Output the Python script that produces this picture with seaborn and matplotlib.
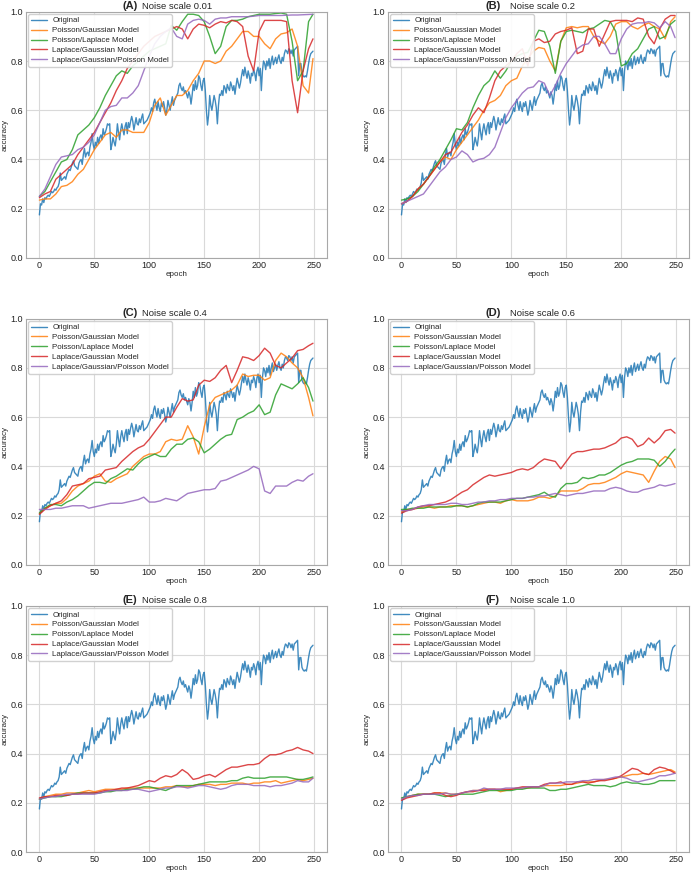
import numpy as np
import pandas as pd
import matplotlib
matplotlib.use("Agg")
import matplotlib.pyplot as plt
import seaborn as sns

# Original training accuracy, one value per epoch (same curve in every panel)
orig_acc = [
    0.175, 0.22, 0.215, 0.24, 0.225, 0.245, 0.24, 0.25, 0.255, 0.25,
    0.26, 0.27, 0.265, 0.27, 0.28, 0.275, 0.285, 0.29, 0.305, 0.345,
    0.315, 0.32, 0.325, 0.33, 0.32, 0.34, 0.35, 0.36, 0.355, 0.37,
    0.385, 0.395, 0.375, 0.37, 0.365, 0.36, 0.385, 0.395, 0.40, 0.38,
    0.42, 0.445, 0.41, 0.425, 0.43, 0.415, 0.45, 0.47, 0.505, 0.46,
    0.44, 0.47, 0.455, 0.49, 0.465, 0.49, 0.50, 0.48, 0.525, 0.50,
    0.51, 0.525, 0.545, 0.54, 0.545, 0.44, 0.46, 0.49, 0.47, 0.455,
    0.49, 0.545, 0.51, 0.48, 0.52, 0.545, 0.52, 0.50, 0.535, 0.55,
    0.505, 0.55, 0.53, 0.555, 0.575, 0.555, 0.52, 0.545, 0.57, 0.545,
    0.54, 0.565, 0.55, 0.57, 0.585, 0.545, 0.55, 0.555, 0.56, 0.57,
    0.58, 0.59, 0.61, 0.595, 0.63, 0.645, 0.62, 0.60, 0.635, 0.61,
    0.595, 0.63, 0.615, 0.635, 0.61, 0.58, 0.60, 0.64, 0.62, 0.60,
    0.63, 0.655, 0.62, 0.64, 0.65, 0.66, 0.67, 0.70, 0.71, 0.69,
    0.68, 0.695, 0.67, 0.68, 0.665, 0.65, 0.675, 0.66, 0.625, 0.66,
    0.705, 0.68, 0.72, 0.685, 0.70, 0.74, 0.73, 0.70, 0.68, 0.72,
    0.73, 0.68, 0.60, 0.54, 0.58, 0.66, 0.62, 0.60, 0.63, 0.66,
    0.64, 0.61, 0.545, 0.62, 0.665, 0.66, 0.68, 0.66, 0.70, 0.69,
    0.67, 0.705, 0.69, 0.68, 0.715, 0.70, 0.68, 0.70, 0.665, 0.70,
    0.73, 0.71, 0.69, 0.71, 0.74, 0.765, 0.74, 0.775, 0.75, 0.73,
    0.76, 0.74, 0.71, 0.75, 0.74, 0.765, 0.75, 0.72, 0.76, 0.775,
    0.74, 0.77, 0.68, 0.76, 0.80, 0.79, 0.765, 0.80, 0.78, 0.81,
    0.77, 0.80, 0.82, 0.785, 0.80, 0.815, 0.79, 0.81, 0.825, 0.80,
    0.79, 0.815, 0.80, 0.83, 0.845, 0.84, 0.83, 0.85, 0.845, 0.83,
    0.845, 0.82, 0.845, 0.85, 0.855, 0.86, 0.74, 0.79, 0.79, 0.75,
    0.74, 0.735, 0.74, 0.735, 0.76, 0.79, 0.815, 0.83, 0.835, 0.84,
]
orig_epochs = list(range(len(orig_acc)))

# model curves, read every 5 epochs (last point at epoch 249)
model_epochs = list(range(0, 250, 5)) + [249]

# (A) noise scale 0.01
a_pg = [0.235, 0.24, 0.24, 0.26, 0.29, 0.295, 0.31, 0.34, 0.36, 0.40,
        0.44, 0.47, 0.50, 0.51, 0.49, 0.52, 0.52, 0.51, 0.51, 0.51,
        0.55, 0.62, 0.65, 0.58, 0.62, 0.66, 0.66, 0.68, 0.72, 0.75,
        0.80, 0.80, 0.79, 0.80, 0.84, 0.86, 0.89, 0.92, 0.92, 0.90,
        0.90, 0.87, 0.85, 0.89, 0.91, 0.915, 0.93, 0.86, 0.70, 0.67, 0.81]
a_pl = [0.25, 0.27, 0.31, 0.35, 0.39, 0.40, 0.44, 0.50, 0.52, 0.54,
        0.57, 0.61, 0.66, 0.70, 0.74, 0.76, 0.75, 0.78, 0.80, 0.82,
        0.84, 0.85, 0.86, 0.87, 0.945, 0.925, 0.96, 0.99, 0.99, 0.985,
        0.96, 0.90, 0.83, 0.86, 0.94, 0.965, 0.965, 0.97, 0.98, 0.985,
        0.99, 0.99, 0.99, 0.993, 0.995, 0.99, 0.88, 0.72, 0.76, 0.96, 0.99]
a_lg = [0.245, 0.26, 0.27, 0.32, 0.34, 0.36, 0.38, 0.42, 0.45, 0.48,
        0.51, 0.55, 0.59, 0.63, 0.68, 0.72, 0.77, 0.80, 0.83, 0.86,
        0.88, 0.90, 0.91, 0.92, 0.93, 0.94, 0.93, 0.89, 0.93, 0.95,
        0.945, 0.935, 0.95, 0.96, 0.955, 0.965, 0.96, 0.94, 0.82, 0.76,
        0.92, 0.965, 0.965, 0.965, 0.965, 0.96, 0.72, 0.59, 0.76, 0.85, 0.89]
a_lgp = [0.25, 0.28, 0.33, 0.38, 0.41, 0.415, 0.42, 0.44, 0.45, 0.47,
         0.50, 0.55, 0.60, 0.615, 0.62, 0.65, 0.65, 0.67, 0.70, 0.76,
         0.82, 0.87, 0.90, 0.92, 0.935, 0.90, 0.89, 0.95, 0.965, 0.97,
         0.965, 0.95, 0.97, 0.975, 0.975, 0.98, 0.98, 0.98, 0.98, 0.982,
         0.985, 0.985, 0.985, 0.985, 0.985, 0.986, 0.987, 0.987, 0.988, 0.989, 0.99]

# (B) noise scale 0.2
b_pg = [0.22, 0.23, 0.25, 0.28, 0.30, 0.33, 0.36, 0.39, 0.41, 0.40,
        0.44, 0.47, 0.50, 0.53, 0.56, 0.60, 0.63, 0.64, 0.66, 0.70,
        0.72, 0.73, 0.78, 0.81, 0.84, 0.855, 0.85, 0.80, 0.76, 0.88,
        0.935, 0.94, 0.935, 0.94, 0.94, 0.90, 0.88, 0.87, 0.90, 0.95,
        0.96, 0.96, 0.94, 0.93, 0.945, 0.955, 0.94, 0.93, 0.89, 0.96, 0.98]
b_pl = [0.235, 0.24, 0.25, 0.27, 0.30, 0.33, 0.37, 0.40, 0.44, 0.48,
        0.525, 0.52, 0.55, 0.61, 0.66, 0.70, 0.72, 0.76, 0.73, 0.76,
        0.80, 0.82, 0.83, 0.835, 0.88, 0.925, 0.92, 0.86, 0.75, 0.88,
        0.92, 0.925, 0.92, 0.915, 0.93, 0.935, 0.95, 0.965, 0.96, 0.92,
        0.78, 0.79, 0.83, 0.85, 0.89, 0.93, 0.94, 0.89, 0.90, 0.95, 0.965]
b_lg = [0.22, 0.23, 0.25, 0.28, 0.30, 0.33, 0.36, 0.39, 0.42, 0.43,
        0.47, 0.51, 0.54, 0.58, 0.61, 0.59, 0.65, 0.72, 0.76, 0.78,
        0.80, 0.83, 0.85, 0.78, 0.88, 0.89, 0.875, 0.88, 0.91, 0.92,
        0.925, 0.935, 0.83, 0.84, 0.93, 0.93, 0.86, 0.91, 0.96, 0.965,
        0.965, 0.965, 0.96, 0.975, 0.97, 0.90, 0.87, 0.93, 0.97, 0.985, 0.985]
b_lgp = [0.22, 0.23, 0.24, 0.25, 0.26, 0.29, 0.32, 0.35, 0.37, 0.40,
         0.41, 0.435, 0.42, 0.39, 0.40, 0.405, 0.42, 0.45, 0.51, 0.57,
         0.61, 0.64, 0.67, 0.69, 0.695, 0.72, 0.71, 0.66, 0.70, 0.75,
         0.79, 0.82, 0.85, 0.865, 0.87, 0.90, 0.90, 0.87, 0.83, 0.83,
         0.89, 0.93, 0.95, 0.955, 0.955, 0.96, 0.955, 0.935, 0.96, 0.94, 0.895]

# (C) noise scale 0.4
c_pg = [0.21, 0.23, 0.24, 0.25, 0.25, 0.27, 0.30, 0.32, 0.33, 0.34,
        0.36, 0.37, 0.34, 0.335, 0.35, 0.36, 0.37, 0.40, 0.42, 0.44,
        0.45, 0.45, 0.46, 0.50, 0.51, 0.505, 0.51, 0.565, 0.52, 0.45,
        0.56, 0.65, 0.68, 0.69, 0.70, 0.71, 0.73, 0.775, 0.765, 0.77,
        0.77, 0.75, 0.76, 0.83, 0.86, 0.845, 0.82, 0.80, 0.76, 0.68, 0.605]
c_pl = [0.21, 0.23, 0.245, 0.245, 0.24, 0.255, 0.265, 0.28, 0.30, 0.32,
        0.335, 0.335, 0.33, 0.35, 0.36, 0.375, 0.39, 0.385, 0.41, 0.43,
        0.44, 0.45, 0.44, 0.44, 0.47, 0.49, 0.49, 0.51, 0.515, 0.50,
        0.455, 0.47, 0.49, 0.51, 0.525, 0.53, 0.59, 0.60, 0.615, 0.625,
        0.65, 0.61, 0.62, 0.69, 0.735, 0.725, 0.715, 0.735, 0.76, 0.72, 0.665]
c_lg = [0.205, 0.225, 0.24, 0.25, 0.26, 0.285, 0.32, 0.325, 0.33, 0.35,
        0.355, 0.36, 0.385, 0.39, 0.395, 0.42, 0.44, 0.46, 0.475, 0.485,
        0.51, 0.54, 0.57, 0.60, 0.60, 0.64, 0.675, 0.665, 0.67, 0.73,
        0.75, 0.745, 0.76, 0.79, 0.81, 0.74, 0.79, 0.845, 0.84, 0.83,
        0.85, 0.88, 0.86, 0.81, 0.80, 0.82, 0.84, 0.87, 0.875, 0.89, 0.90]
c_lgp = [0.225, 0.225, 0.225, 0.23, 0.23, 0.235, 0.24, 0.24, 0.24, 0.23,
         0.235, 0.24, 0.245, 0.25, 0.25, 0.25, 0.255, 0.26, 0.265, 0.275,
         0.255, 0.255, 0.26, 0.27, 0.265, 0.26, 0.275, 0.29, 0.295, 0.30,
         0.305, 0.305, 0.31, 0.34, 0.345, 0.355, 0.365, 0.375, 0.385, 0.40,
         0.39, 0.30, 0.29, 0.32, 0.32, 0.32, 0.335, 0.345, 0.34, 0.36, 0.37]

# (D) noise scale 0.6
d_pg = [0.215, 0.225, 0.225, 0.23, 0.235, 0.235, 0.23, 0.235, 0.235, 0.24,
        0.24, 0.24, 0.235, 0.24, 0.245, 0.25, 0.255, 0.255, 0.25, 0.26,
        0.265, 0.26, 0.26, 0.26, 0.265, 0.275, 0.275, 0.27, 0.28, 0.30,
        0.30, 0.30, 0.30, 0.31, 0.325, 0.33, 0.33, 0.335, 0.345, 0.355,
        0.37, 0.38, 0.375, 0.37, 0.365, 0.335, 0.38, 0.42, 0.44, 0.43, 0.395]
d_pl = [0.225, 0.225, 0.23, 0.23, 0.23, 0.235, 0.235, 0.235, 0.235, 0.235,
        0.24, 0.24, 0.235, 0.24, 0.25, 0.255, 0.255, 0.255, 0.255, 0.26,
        0.265, 0.27, 0.27, 0.275, 0.28, 0.285, 0.295, 0.28, 0.275, 0.31,
        0.33, 0.33, 0.335, 0.355, 0.35, 0.355, 0.365, 0.365, 0.375, 0.39,
        0.405, 0.415, 0.42, 0.43, 0.43, 0.43, 0.425, 0.40, 0.42, 0.45, 0.47]
d_lg = [0.21, 0.22, 0.225, 0.235, 0.24, 0.24, 0.245, 0.25, 0.255, 0.265,
        0.28, 0.295, 0.305, 0.325, 0.34, 0.355, 0.365, 0.36, 0.365, 0.37,
        0.375, 0.385, 0.39, 0.385, 0.395, 0.415, 0.43, 0.425, 0.42, 0.39,
        0.42, 0.45, 0.46, 0.46, 0.465, 0.47, 0.47, 0.475, 0.485, 0.495,
        0.515, 0.52, 0.51, 0.48, 0.49, 0.515, 0.495, 0.515, 0.545, 0.55, 0.535]
d_lgp = [0.22, 0.22, 0.225, 0.235, 0.24, 0.245, 0.245, 0.245, 0.245, 0.25,
         0.25, 0.245, 0.245, 0.25, 0.255, 0.255, 0.26, 0.26, 0.265, 0.265,
         0.27, 0.27, 0.27, 0.275, 0.275, 0.28, 0.28, 0.285, 0.29, 0.285,
         0.28, 0.285, 0.29, 0.29, 0.295, 0.30, 0.30, 0.30, 0.31, 0.315,
         0.31, 0.30, 0.295, 0.295, 0.305, 0.31, 0.315, 0.325, 0.32, 0.325, 0.33]

# (E) noise scale 0.8
e_pg = [0.215, 0.225, 0.23, 0.235, 0.235, 0.24, 0.24, 0.24, 0.245, 0.25,
        0.245, 0.25, 0.255, 0.255, 0.255, 0.255, 0.26, 0.26, 0.26, 0.26,
        0.26, 0.26, 0.26, 0.265, 0.265, 0.27, 0.265, 0.265, 0.27, 0.275,
        0.275, 0.275, 0.27, 0.275, 0.275, 0.28, 0.28, 0.28, 0.275, 0.28,
        0.28, 0.285, 0.285, 0.29, 0.28, 0.285, 0.29, 0.295, 0.29, 0.295, 0.30]
e_pl = [0.215, 0.22, 0.225, 0.225, 0.225, 0.23, 0.235, 0.24, 0.24, 0.24,
        0.24, 0.24, 0.245, 0.245, 0.25, 0.25, 0.255, 0.255, 0.26, 0.265,
        0.265, 0.26, 0.255, 0.25, 0.26, 0.27, 0.27, 0.27, 0.27, 0.275,
        0.28, 0.285, 0.285, 0.285, 0.285, 0.29, 0.29, 0.30, 0.305, 0.30,
        0.30, 0.30, 0.305, 0.305, 0.305, 0.305, 0.30, 0.295, 0.295, 0.30, 0.305]
e_lg = [0.22, 0.225, 0.225, 0.23, 0.23, 0.23, 0.235, 0.235, 0.24, 0.24,
        0.24, 0.245, 0.25, 0.25, 0.255, 0.26, 0.26, 0.265, 0.27, 0.28,
        0.29, 0.285, 0.30, 0.31, 0.305, 0.315, 0.335, 0.32, 0.295, 0.30,
        0.31, 0.315, 0.305, 0.32, 0.335, 0.345, 0.345, 0.35, 0.355, 0.355,
        0.36, 0.38, 0.395, 0.395, 0.40, 0.41, 0.415, 0.425, 0.415, 0.41, 0.40]
e_lgp = [0.215, 0.22, 0.225, 0.225, 0.23, 0.235, 0.235, 0.235, 0.235, 0.235,
         0.235, 0.24, 0.245, 0.25, 0.25, 0.25, 0.25, 0.255, 0.255, 0.25,
         0.245, 0.25, 0.255, 0.26, 0.26, 0.265, 0.265, 0.26, 0.265, 0.27,
         0.27, 0.265, 0.26, 0.255, 0.26, 0.27, 0.275, 0.275, 0.275, 0.27,
         0.27, 0.27, 0.265, 0.27, 0.27, 0.275, 0.28, 0.29, 0.285, 0.285, 0.30]

# (F) noise scale 1.0
f_pg = [0.215, 0.225, 0.23, 0.235, 0.235, 0.235, 0.24, 0.24, 0.24, 0.235,
        0.235, 0.24, 0.245, 0.25, 0.25, 0.255, 0.255, 0.255, 0.245, 0.25,
        0.255, 0.26, 0.26, 0.26, 0.265, 0.265, 0.27, 0.27, 0.27, 0.27,
        0.275, 0.275, 0.28, 0.285, 0.285, 0.285, 0.29, 0.295, 0.295, 0.30,
        0.305, 0.31, 0.315, 0.315, 0.32, 0.315, 0.32, 0.325, 0.33, 0.335, 0.325]
f_pl = [0.22, 0.225, 0.23, 0.235, 0.235, 0.235, 0.235, 0.23, 0.225, 0.23,
        0.235, 0.235, 0.235, 0.235, 0.24, 0.245, 0.25, 0.25, 0.25, 0.25,
        0.25, 0.255, 0.255, 0.26, 0.26, 0.26, 0.26, 0.25, 0.25, 0.255,
        0.255, 0.26, 0.265, 0.27, 0.275, 0.27, 0.27, 0.27, 0.265, 0.27,
        0.28, 0.285, 0.28, 0.28, 0.275, 0.275, 0.28, 0.29, 0.29, 0.29, 0.29]
f_lg = [0.21, 0.22, 0.225, 0.23, 0.235, 0.235, 0.24, 0.24, 0.23, 0.225,
        0.23, 0.24, 0.245, 0.245, 0.25, 0.25, 0.255, 0.255, 0.255, 0.255,
        0.255, 0.26, 0.265, 0.265, 0.265, 0.265, 0.275, 0.28, 0.28, 0.285,
        0.275, 0.275, 0.285, 0.285, 0.28, 0.285, 0.29, 0.29, 0.295, 0.30,
        0.31, 0.325, 0.34, 0.335, 0.32, 0.315, 0.335, 0.345, 0.34, 0.33, 0.32]
f_lgp = [0.215, 0.225, 0.23, 0.23, 0.235, 0.235, 0.235, 0.235, 0.24, 0.235,
         0.235, 0.24, 0.245, 0.25, 0.25, 0.26, 0.255, 0.255, 0.255, 0.26,
         0.26, 0.26, 0.26, 0.265, 0.265, 0.265, 0.27, 0.28, 0.28, 0.28,
         0.285, 0.285, 0.285, 0.29, 0.29, 0.295, 0.295, 0.295, 0.30, 0.305,
         0.305, 0.30, 0.29, 0.285, 0.29, 0.295, 0.30, 0.31, 0.31, 0.315, 0.32]

series_names = ["Original", "Poisson/Gaussian Model", "Poisson/Laplace Model",
                "Laplace/Gaussian Model", "Laplace/Gaussian/Poisson Model"]
panel_letters = ["(A)", "(B)", "(C)", "(D)", "(E)", "(F)"]
panel_titles = ["Noise scale 0.01", "Noise scale 0.2", "Noise scale 0.4",
                "Noise scale 0.6", "Noise scale 0.8", "Noise scale 1.0"]
panel_models = [
    [a_pg, a_pl, a_lg, a_lgp],
    [b_pg, b_pl, b_lg, b_lgp],
    [c_pg, c_pl, c_lg, c_lgp],
    [d_pg, d_pl, d_lg, d_lgp],
    [e_pg, e_pl, e_lg, e_lgp],
    [f_pg, f_pl, f_lg, f_lgp],
]

sns.set_style("whitegrid", {"axes.edgecolor": "#a8a8a8", "grid.color": "#d9d9d9",
                            "axes.linewidth": 1.0})
plt.rcParams["font.family"] = ["Liberation Sans", "DejaVu Sans"]

palette = dict(zip(series_names, sns.color_palette("tab10", 5)))

fig = plt.figure(figsize=(6.95, 8.73), dpi=100)
lefts = [0.037, 0.558]
bottoms = [0.7045, 0.353, 0.024]
w, h = 0.433, 0.282

# title positions (axes fraction) of the letter and the rest, left/right column
letter_x = [0.322, 0.323]
text_x = [0.385, 0.405]

for i in range(6):
    ax = fig.add_axes([lefts[i % 2], bottoms[i // 2], w, h])

    # build long table for this panel
    frames = [pd.DataFrame({"epoch": orig_epochs, "accuracy": orig_acc,
                            "model": series_names[0]})]
    for name, vals in zip(series_names[1:], panel_models[i]):
        frames.append(pd.DataFrame({"epoch": model_epochs, "accuracy": vals,
                                    "model": name}))
    df = pd.concat(frames, ignore_index=True)

    sns.lineplot(data=df, x="epoch", y="accuracy", hue="model",
                 hue_order=series_names, palette=palette, linewidth=1.0,
                 alpha=0.85, ax=ax)

    ax.set_ylim(0, 1.0)
    ax.set_xticks([0, 50, 100, 150, 200, 250])
    ax.set_yticks([0.0, 0.2, 0.4, 0.6, 0.8, 1.0])
    ax.tick_params(labelsize=6.5, pad=2, colors="#222222", length=0)
    ax.set_xlabel("epoch", fontsize=5.8, labelpad=1)
    ax.set_ylabel("accuracy", fontsize=5.8, labelpad=1)

    # title: bold panel letter followed by the noise scale
    ax.text(letter_x[i % 2], 1.004, panel_letters[i], transform=ax.transAxes,
            fontsize=8, fontweight="bold", ha="left", va="bottom")
    ax.text(text_x[i % 2], 1.004, panel_titles[i], transform=ax.transAxes,
            fontsize=6.8, ha="left", va="bottom")

    handles, labels = ax.get_legend_handles_labels()
    ax.legend(handles, labels, loc="upper left", fontsize=5.7,
              frameon=True, framealpha=0.9, edgecolor="#cccccc",
              handlelength=2.0, borderpad=0.35, labelspacing=0.3,
              handletextpad=0.7, borderaxespad=0.3)

fig.savefig("out.png", dpi=100)
